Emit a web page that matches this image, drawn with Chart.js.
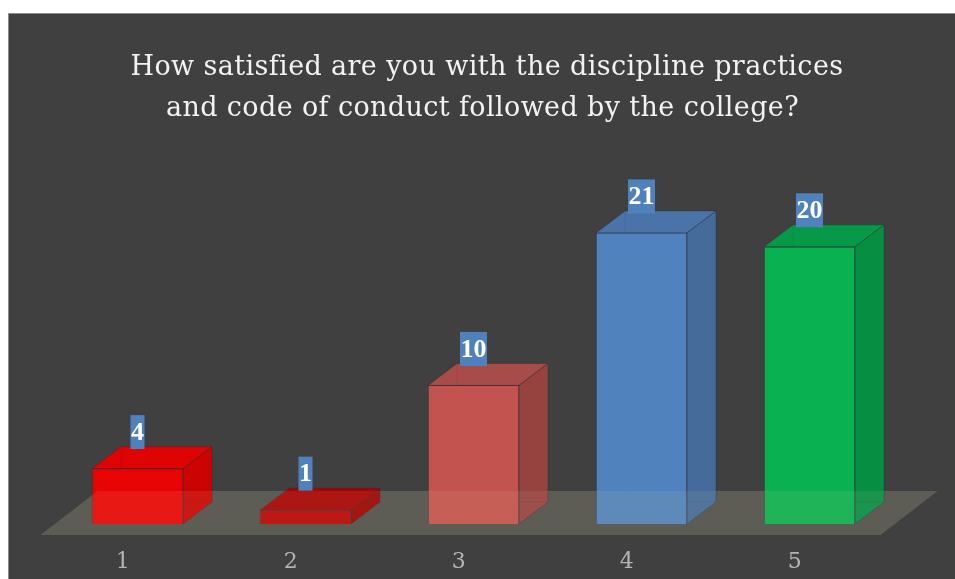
<!DOCTYPE html>
<html>
<head>
<meta charset="utf-8">
<title>Discipline practices satisfaction</title>
<style>
  html, body { margin: 0; padding: 0; background: #fff; overflow: hidden; }
  #frame { position: absolute; left: 8px; top: 13px; width: 947px; height: 566px; box-sizing: border-box;
    background: #404040; border-top: 1px solid #8c8c8c; border-left: 1px solid #8c8c8c; }
  #satisfaction { position: absolute; left: 0; top: 0; }
</style>
<script src="https://cdn.jsdelivr.net/npm/chart.js@4"></script>
</head>
<body>
<div id="frame"></div>
<canvas id="satisfaction" width="955" height="579"></canvas>
<script>
// data
const categories = ["1", "2", "3", "4", "5"];
const responses = [4, 1, 10, 21, 20];
// trailing space nudges the second line left, as in the original
const titleLines = ["How satisfied are you with the discipline practices", "and code of conduct followed by the college? "];

// face colours for each bar
const frontColors = ["rgba(243,0,0,0.94)", "rgba(192,0,0,0.94)", "rgba(203,84,80,0.94)", "rgba(81,134,197,0.94)", "rgba(6,184,81,0.94)"];
const topColors = ["#de0404", "#a70303", "#a84c49", "#4a74a8", "#069a48"];
const sideColors = ["#cc0303", "#9f0202", "#96423f", "#456b9b", "#068f43"];

const depthX = 29;
const depthY = 22;
const serif = "'DejaVu Serif', serif";

function poly(ctx, pts, fill, stroke) {
  ctx.beginPath();
  pts.forEach((p, i) => (i ? ctx.lineTo(p[0], p[1]) : ctx.moveTo(p[0], p[1])));
  ctx.closePath();
  if (fill) {
    ctx.fillStyle = fill;
    ctx.fill();
  }
  if (stroke) {
    ctx.strokeStyle = stroke;
    ctx.lineWidth = 1;
    ctx.stroke();
  }
}

function floorPath(chart) {
  const x = chart.scales.x;
  const base = chart.scales.y.getPixelForValue(0);
  return [
    [x.left - 13, base + 11],
    [x.right - 13, base + 11],
    [x.right + 44, base - 33],
    [x.left + 44, base - 33],
  ];
}

// floor and the hidden faces of the boxes go under the library's bars
const boxes = {
  id: "boxes",
  beforeDraw(chart) {
    // the title is spaced out a little wider than the font's own metrics
    chart.ctx.letterSpacing = "0.38px";
  },
  beforeDatasetsDraw(chart) {
    const ctx = chart.ctx;
    const edge = "rgba(45,40,55,0.4)";
    ctx.save();
    ctx.letterSpacing = "0px";
    poly(ctx, floorPath(chart), "rgb(81,81,76)");
    chart.getDatasetMeta(0).data.forEach((bar, i) => {
      const l = bar.x - bar.width / 2;
      const r = bar.x + bar.width / 2;
      const t = bar.y;
      const b = bar.base;
      poly(ctx, [[l, t], [l + depthX, t - depthY], [r + depthX, t - depthY], [r, t]], topColors[i], edge);
      poly(ctx, [[r, t], [r + depthX, t - depthY], [r + depthX, b - depthY], [r, b]], sideColors[i], edge);
      // back edges show faintly through the front face
      ctx.strokeStyle = "rgba(45,40,55,0.12)";
      ctx.beginPath();
      ctx.moveTo(l, b);
      ctx.lineTo(l + depthX, b - depthY);
      ctx.lineTo(r + depthX, b - depthY);
      ctx.moveTo(l + depthX, b - depthY);
      ctx.lineTo(l + depthX, t - depthY);
      ctx.stroke();
    });
    ctx.restore();
  },
  afterDatasetsDraw(chart) {
    const ctx = chart.ctx;
    ctx.save();
    ctx.letterSpacing = "0px";
    // the floor sits over the bars as a thin haze
    poly(ctx, floorPath(chart), "rgba(220,210,170,0.1)");
    ctx.font = "bold 26px 'Liberation Serif', serif";
    ctx.textAlign = "center";
    ctx.textBaseline = "middle";
    chart.getDatasetMeta(0).data.forEach((bar, i) => {
      const label = String(responses[i]);
      const w = Math.round(ctx.measureText(label).width) + 1;
      const cy = bar.y - 36.5;
      ctx.fillStyle = "#4f81bd";
      ctx.fillRect(bar.x - w / 2, cy - 17, w, 34);
      ctx.fillStyle = "#fff";
      ctx.fillText(label, bar.x, cy + 1);
    });
    ctx.restore();
  },
};

new Chart(document.getElementById("satisfaction"), {
  type: "bar",
  data: {
    labels: categories,
    datasets: [
      {
        data: responses,
        backgroundColor: frontColors,
        borderColor: "rgba(45,40,55,0.4)",
        borderWidth: 1,
        barThickness: 91,
      },
    ],
  },
  options: {
    responsive: false,
    animation: false,
    devicePixelRatio: 1,
    layout: { padding: { left: 53.5, right: 34.5, top: 0, bottom: 0 } },
    plugins: {
      legend: { display: false },
      tooltip: { enabled: false },
      title: {
        display: true,
        text: titleLines,
        color: "#f2f2f2",
        font: { family: serif, size: 27, weight: "normal", lineHeight: 41 / 27 },
        padding: { top: 47, bottom: 48.5 },
      },
    },
    scales: {
      x: {
        grid: { display: false, drawTicks: false },
        border: { display: false },
        ticks: {
          color: "#b4b4b4",
          font: { family: serif, size: 22 },
          labelOffset: -14.5,
          padding: 25,
          maxRotation: 0,
        },
        afterFit(scale) {
          scale.height = 55;
        },
      },
      y: {
        position: "right",
        min: 0,
        max: 25,
        grid: { display: false, drawTicks: false },
        border: { display: false },
        ticks: { display: false },
        afterFit(scale) {
          scale.width = 27;
        },
      },
    },
  },
  plugins: [boxes],
});
</script>
</body>
</html>
